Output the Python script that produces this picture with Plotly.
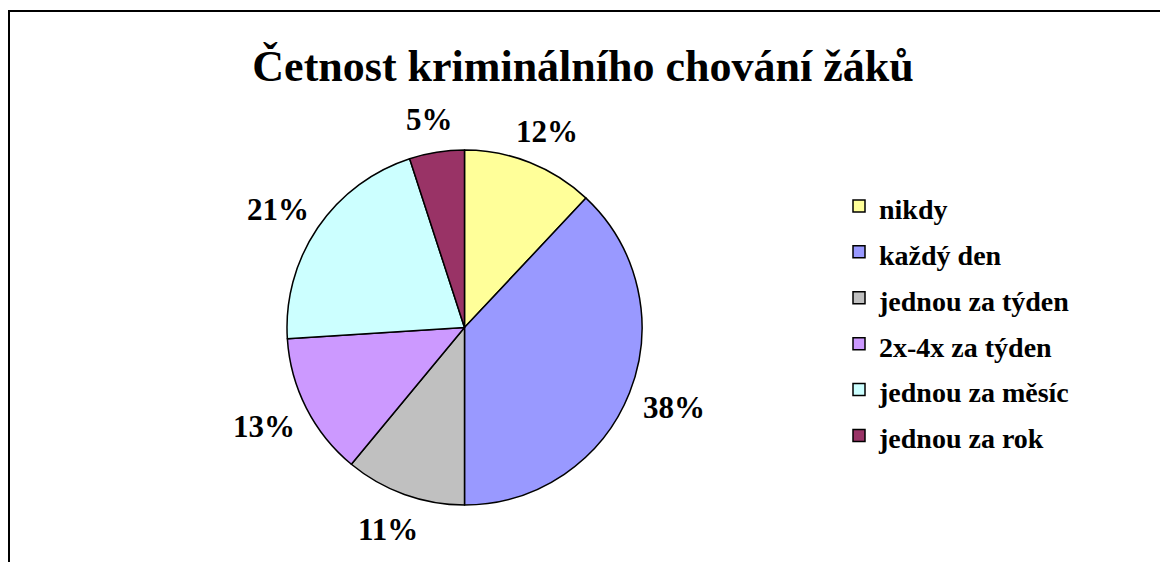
import math
import plotly.graph_objects as go

categories = ["nikdy", "každý den", "jednou za týden", "2x-4x za týden", "jednou za měsíc", "jednou za rok"]
values = [12, 38, 11, 13, 21, 5]
colors = ["#FFFF99", "#9999FF", "#C0C0C0", "#CC99FF", "#CCFFFF", "#993366"]
title_text = "Četnost kriminálního chování žáků"

W, H = 1168, 562
OFF = 8  # page body margin offset
FONT = "Liberation Serif"

# pie geometry (reference pixels)
CX, CY, R = 464.5, 327.5, 177.5
LABEL_RX, LABEL_RY = 1.27 * R, 1.2 * R


def px(x):
    return (x - OFF) / W


def py(y):
    return 1 - (y - OFF) / H


fig = go.Figure(go.Pie(
    labels=[f"<span style='font-size:28px'>{c}</span>" for c in categories],
    values=values,
    marker=dict(colors=colors, line=dict(color="black", width=1.5)),
    sort=False,
    direction="clockwise",
    rotation=0,
    textinfo="none",
    domain=dict(x=[px(CX - R), px(CX + R)], y=[py(CY + R), py(CY - R)]),
    hovertext=categories,
    hoverinfo="text+percent",
))

# percentage labels placed outside each slice, derived from the data
total = sum(values)
annotations = []
cum = 0.0
for v in values:
    mid = (cum + v / 2) / total * 2 * math.pi
    cum += v
    annotations.append(dict(
        xref="paper", yref="paper",
        x=px(CX + LABEL_RX * math.sin(mid)),
        y=py(CY - LABEL_RY * math.cos(mid) + 2),
        xanchor="center", yanchor="middle",
        text=f"<b>{round(v / total * 100)}%</b>",
        showarrow=False,
        font=dict(family=FONT, size=31, color="black"),
    ))

fig.update_layout(
    width=W, height=H,
    margin=dict(l=0, r=0, t=0, b=0),
    paper_bgcolor="white",
    plot_bgcolor="white",
    title=dict(text="<b>" + title_text + "</b>", x=px(583), xanchor="center", y=py(66), yanchor="middle",
               font=dict(family=FONT, size=44, color="black")),
    legend=dict(x=px(839), xanchor="left", y=py(178), yanchor="top",
                font=dict(family=FONT, size=33, color="black", weight="bold"),
                bgcolor="rgba(0,0,0,0)", itemclick=False),
    annotations=annotations,
    shapes=[
        dict(type="line", xref="paper", yref="paper", x0=px(8), x1=1.0, y0=py(11), y1=py(11),
             line=dict(color="black", width=2)),
        dict(type="line", xref="paper", yref="paper", x0=px(9), x1=px(9), y0=py(10), y1=0,
             line=dict(color="black", width=2)),
    ],
)

fig.write_html("out.html")
